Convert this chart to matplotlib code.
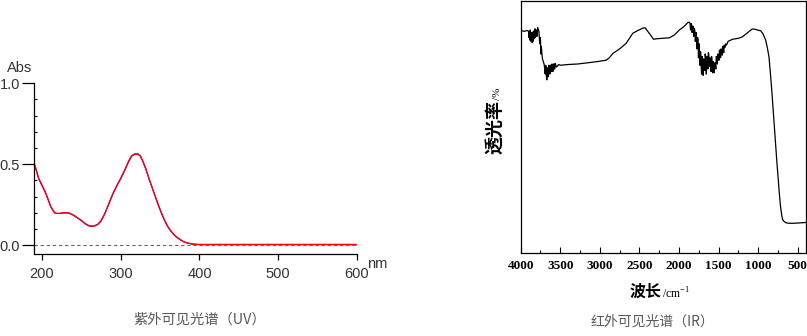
import matplotlib.pyplot as plt
from matplotlib.ticker import MultipleLocator

# UV-Vis spectrum (absorbance vs wavelength, nm)
uv_nm = [190, 193, 196, 200, 204, 208, 211, 214, 217, 222, 228, 234, 240, 245,
         250, 255, 260, 266, 271, 275, 280, 285, 290, 295, 300, 305, 310, 314,
         318, 322, 325, 328, 332, 336, 340, 344, 348, 352, 356, 360, 364, 368,
         372, 376, 380, 385, 390, 396, 400, 450, 500, 550, 600]
uv_abs_blue = [0.51, 0.46, 0.41, 0.37, 0.33, 0.28, 0.24, 0.215, 0.196, 0.195,
               0.199, 0.198, 0.185, 0.168, 0.152, 0.132, 0.118, 0.116, 0.128,
               0.148, 0.195, 0.255, 0.315, 0.365, 0.41, 0.46, 0.515, 0.55,
               0.562, 0.562, 0.55, 0.52, 0.47, 0.41, 0.355, 0.3, 0.245, 0.195,
               0.15, 0.112, 0.085, 0.062, 0.045, 0.032, 0.02, 0.012, 0.007,
               0.004, 0.003, 0.003, 0.003, 0.003, 0.003]
uv_abs_red = [0.51, 0.462, 0.412, 0.372, 0.332, 0.282, 0.242, 0.216, 0.197, 0.196,
              0.2, 0.199, 0.186, 0.169, 0.153, 0.133, 0.119, 0.117, 0.129,
              0.149, 0.196, 0.256, 0.316, 0.366, 0.412, 0.462, 0.517, 0.552,
              0.564, 0.563, 0.551, 0.521, 0.471, 0.411, 0.356, 0.301, 0.246,
              0.196, 0.151, 0.113, 0.086, 0.063, 0.046, 0.033, 0.021, 0.013,
              0.008, 0.005, 0.004, 0.004, 0.004, 0.004, 0.004]

# IR spectrum (transmittance vs wavenumber, cm-1)
ir_wn = [4000, 3950, 3920, 3900, 3895, 3890, 3885, 3880, 3875, 3870, 3865, 3860,
         3855, 3850, 3845, 3840, 3835, 3830, 3825, 3820, 3815, 3810, 3805, 3800,
         3795, 3790, 3785, 3780, 3770, 3760, 3755, 3750, 3745, 3740, 3735, 3730,
         3725, 3715, 3705, 3700, 3695, 3690, 3685, 3680, 3675, 3670, 3665, 3660,
         3655, 3650, 3645, 3640, 3635, 3630, 3625, 3620, 3615, 3610, 3605, 3600,
         3595, 3590, 3585, 3580, 3575, 3570, 3565, 3560, 3550, 3540, 3520, 3500,
         3400, 3280, 3200, 3045, 2920, 2880, 2835, 2750, 2668, 2620, 2584, 2520,
         2459, 2430, 2396, 2360, 2322, 2290, 2200, 2121, 2060, 1995, 1940, 1890,
         1870, 1860, 1855, 1850, 1845, 1840, 1835, 1830, 1825, 1820, 1815, 1810,
         1805, 1800, 1795, 1790, 1785, 1780, 1775, 1770, 1765, 1760, 1755, 1750,
         1745, 1740, 1735, 1730, 1725, 1720, 1715, 1710, 1705, 1700, 1695, 1690,
         1685, 1680, 1675, 1670, 1665, 1660, 1655, 1650, 1645, 1640, 1635, 1630,
         1625, 1620, 1615, 1610, 1605, 1600, 1595, 1590, 1585, 1580, 1575, 1570,
         1565, 1560, 1555, 1550, 1545, 1540, 1535, 1530, 1525, 1520, 1515, 1510,
         1505, 1500, 1495, 1490, 1485, 1480, 1475, 1470, 1465, 1460, 1455, 1450,
         1445, 1440, 1435, 1430, 1425, 1420, 1410, 1400, 1380, 1325, 1250, 1199,
         1150, 1100, 1073, 1040, 1000, 969, 940, 906, 885, 864, 845, 825, 805,
         785, 765, 745, 730, 718, 700, 690, 676, 650, 613, 550, 500, 450, 400]
ir_t = [88.2, 88.0, 88.3, 88.0, 85.5, 87.8, 84.5, 88.5, 86.0, 84.0, 87.0, 87.5,
        83.5, 86.5, 84.0, 88.0, 86.0, 85.0, 88.5, 89.0, 85.5, 86.0, 88.0, 88.5,
        86.0, 87.0, 89.5, 89.0, 88.0, 83.0, 85.5, 84.5, 79.0, 82.0, 80.0, 78.5,
        77.0, 76.0, 75.0, 74.0, 72.0, 71.0, 74.5, 74.0, 70.0, 68.7, 73.5, 73.0,
        70.0, 70.0, 74.5, 74.0, 71.5, 71.0, 74.5, 74.5, 72.5, 72.0, 75.0, 74.5,
        72.0, 72.5, 75.0, 75.0, 73.0, 73.0, 75.2, 75.0, 73.8, 74.0, 74.8, 74.5,
        74.8, 75.0, 75.3, 75.9, 76.5, 77.5, 79.2, 81.0, 83.2, 85.5, 87.2, 88.3,
        89.2, 89.4, 88.0, 86.5, 84.8, 85.0, 85.2, 85.4, 86.5, 88.5, 89.8, 91.4,
        91.6, 91.0, 88.5, 89.8, 91.0, 90.5, 87.5, 88.5, 90.0, 89.5, 86.0, 87.0,
        89.0, 88.0, 84.0, 85.0, 87.5, 86.0, 81.0, 82.0, 85.5, 84.5, 77.5, 79.0,
        83.0, 76.0, 74.5, 80.0, 79.5, 74.0, 71.0, 78.0, 77.5, 72.0, 70.5, 77.0,
        76.5, 74.0, 72.5, 79.0, 78.0, 73.5, 71.0, 78.0, 77.0, 75.0, 73.0, 79.5,
        79.0, 76.0, 74.0, 77.5, 76.5, 74.0, 72.0, 78.0, 77.5, 73.0, 71.5, 76.0,
        75.5, 72.5, 71.5, 75.0, 75.5, 74.0, 73.0, 78.0, 77.5, 76.0, 75.0, 79.0,
        78.5, 77.5, 76.5, 80.5, 80.0, 78.5, 77.5, 81.0, 80.5, 79.5, 78.5, 82.0,
        81.5, 80.5, 79.5, 82.5, 82.0, 81.5, 83.0, 82.5, 84.0, 84.8, 85.2, 85.8,
        87.0, 88.3, 88.9, 88.8, 88.4, 88.2, 87.0, 84.5, 81.5, 77.9, 71.0, 63.0,
        54.0, 45.0, 36.5, 28.5, 22.5, 18.4, 14.5, 13.2, 12.6, 12.0, 11.8, 11.8,
        11.9, 12.0, 12.1]

uv_xticks = [200, 300, 400, 500, 600]
uv_yticks = [0.0, 0.5, 1.0]
ir_xticks = [4000, 3500, 3000, 2500, 2000, 1500, 1000, 500]

cjk = ["Noto Sans CJK SC", "DejaVu Sans"]
grey_txt = "#333333"

fig = plt.figure(figsize=(8.07, 3.36), dpi=100)

# ---------------- UV panel ----------------
ax1 = fig.add_axes([34 / 807, 1 - 254 / 336, (357 - 34) / 807, (254 - 83.3) / 336])
ax1.plot(uv_nm, uv_abs_blue, color="#0000ff", lw=0.8)
ax1.plot(uv_nm, uv_abs_red, color="#ff0000", lw=1.0)
ax1.axhline(0, color="#666666", lw=0.8, ls=(0, (3, 2.5)))
ax1.set_xlim(190, 600)
ax1.set_ylim(-0.055, 1.0)
ax1.spines["top"].set_visible(False)
ax1.spines["right"].set_visible(False)
for s in ("left", "bottom"):
    ax1.spines[s].set_linewidth(0.9)
ax1.set_xticks(uv_xticks)
ax1.set_yticks(uv_yticks)
ax1.set_yticklabels(["0.0", "0.5", "1.0"])
ax1.yaxis.set_minor_locator(MultipleLocator(0.1))
ax1.tick_params(axis="y", which="major", direction="out", length=9, width=0.9,
                pad=1, labelsize=10.5, labelcolor=grey_txt)
ax1.tick_params(axis="y", which="minor", direction="in", length=2.5, width=0.8)
ax1.tick_params(axis="x", which="major", direction="out", length=4, width=0.9,
                pad=5, labelsize=10.5, labelcolor=grey_txt)
for lab in ax1.get_xticklabels() + ax1.get_yticklabels():
    lab.set_family("Liberation Sans")
fig.text(7 / 807, 1 - 68 / 336, "Abs", fontsize=10.5, family="Liberation Sans",
         color=grey_txt, va="center")
fig.text(367 / 807, 1 - 264 / 336, "nm", fontsize=10.5, family="Liberation Sans",
         color=grey_txt, va="center")
fig.text(200 / 807, 1 - 320 / 336, "紫外可见光谱（UV）", fontsize=10.3, family=cjk,
         color="#595959", ha="center", va="center")

# ---------------- IR panel ----------------
ax2 = fig.add_axes([520.7 / 807, 1 - 253 / 336, (805.7 - 520.7) / 807, 252 / 336])
ax2.plot(ir_wn, ir_t, color="black", lw=0.9)
ax2.set_xlim(4000, 400)
ax2.set_ylim(0, 100)
for s in ax2.spines.values():
    s.set_linewidth(0.9)
ax2.set_xticks(ir_xticks)
ax2.xaxis.set_minor_locator(MultipleLocator(250))
ax2.set_yticks([])
ax2.tick_params(axis="x", which="major", direction="in", length=4, width=0.8,
                pad=5, labelsize=9.5)
ax2.tick_params(axis="x", which="minor", direction="in", length=2, width=0.8)
for lab in ax2.get_xticklabels():
    lab.set_family("Liberation Serif")
    lab.set_fontweight("bold")
fig.text(662 / 807, 1 - 292 / 336, "波长", fontsize=11.5, family=cjk,
         fontweight="bold", ha="right", va="center")
fig.text(662 / 807, 1 - 294 / 336, "/cm$^{\\mathregular{-1}}$", fontsize=8.5,
         family="Liberation Serif", ha="left", va="center")
fig.text(496 / 807, 1 - 100 / 336, "透光率", fontsize=13, family=cjk,
         fontweight="bold", rotation=90, ha="center", va="top")
fig.text(498 / 807, 1 - 100 / 336, "/%", fontsize=8, family="Liberation Serif",
         rotation=90, ha="center", va="bottom")
fig.text(652 / 807, 1 - 322 / 336, "红外可见光谱（IR）", fontsize=10, family=cjk,
         color="#595959", ha="center", va="center")

fig.savefig("out.png", dpi=100)
